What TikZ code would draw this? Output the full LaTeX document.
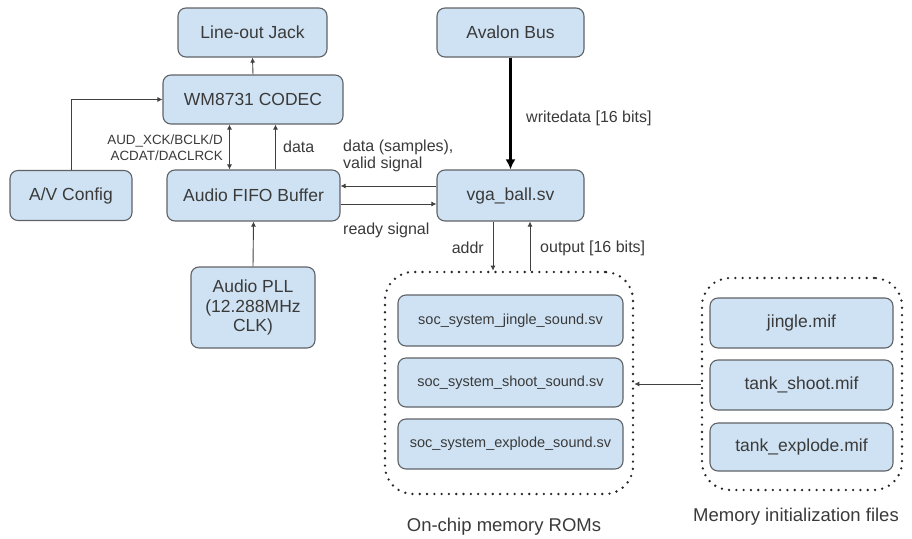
\documentclass[tikz,border=0pt]{standalone}
\usepackage{fontspec}
\setmainfont{Liberation Sans}
\usetikzlibrary{arrows.meta}

\definecolor{boxfill}{HTML}{CFE2F3}
\definecolor{boxline}{HTML}{5F6368}
\definecolor{txt}{HTML}{3A3A3A}

\begin{document}
\begin{tikzpicture}[x=1pt,y=-1pt,
    block/.style={draw=boxline, fill=boxfill, line width=1.1pt, rounded corners=8pt,
        text=txt, inner sep=0pt, align=center, font=\fontsize{17.5}{19.5}\selectfont},
    romblock/.style={block, font=\fontsize{14.5}{16}\selectfont},
    group/.style={draw=black!85, line width=2.6pt, dash pattern=on 0pt off 7.3pt,
        line cap=round, rounded corners=28pt, inner sep=0pt},
    lbl/.style={text=txt, inner sep=0pt, font=\fontsize{16}{17}\selectfont},
    arr/.style={draw=black!75, line width=0.9pt, -{Latex[length=5pt,width=5pt]}},
    bothway/.style={arr, {Latex[length=5pt,width=5pt]}-{Latex[length=5pt,width=5pt]}}]
    \useasboundingbox (0,0) rectangle (912,538);

    % top row
    \node[block, minimum width=149pt, minimum height=49pt] (jack) at (252.5,32.5) {Line-out Jack};
    \node[block, minimum width=147pt, minimum height=49pt] (avalon) at (510.5,32.5) {Avalon Bus};
    \node[block, minimum width=180pt, minimum height=49pt] (codec) at (253,99.5) {WM8731 CODEC};

    % middle row
    \node[block, minimum width=122pt, minimum height=50pt] (avcfg) at (71,195.5) {A/V Config};
    \node[block, minimum width=173pt, minimum height=51pt] (fifo) at (253.5,195.5) {Audio FIFO Buffer};
    \node[block, minimum width=147pt, minimum height=51pt] (vga) at (510.5,195.5) {vga\_ball.sv};
    \node[block, minimum width=124pt, minimum height=81pt] (pll) at (253,307.5) {Audio PLL\\(12.288MHz\\CLK)};

    % on-chip ROMs
    \node[group, minimum width=248pt, minimum height=222pt] (roms) at (509,383) {};
    \node[romblock, minimum width=225pt, minimum height=51pt] (romjingle) at (510.5,320.5) {soc\_system\_jingle\_sound.sv};
    \node[romblock, minimum width=225pt, minimum height=49pt] (romshoot) at (510.5,382.5) {soc\_system\_shoot\_sound.sv};
    \node[romblock, minimum width=225pt, minimum height=50pt] (romexplode) at (510.5,444) {soc\_system\_explode\_sound.sv};

    % init files
    \node[group, minimum width=200pt, minimum height=212pt] (mifs) at (802,384) {};
    \node[block, minimum width=183pt, minimum height=50pt] (mifjingle) at (801.5,323) {jingle.mif};
    \node[block, minimum width=183pt, minimum height=50pt] (mifshoot) at (801.5,385) {tank\_shoot.mif};
    \node[block, minimum width=183pt, minimum height=48pt] (mifexplode) at (801.5,447) {tank\_explode.mif};

    \node[lbl, font=\fontsize{18.5}{20}\selectfont] (romtitle) at (504,527) {On-chip memory ROMs};
    \node[lbl, font=\fontsize{18.5}{20}\selectfont] (miftitle) at (796,517) {Memory initialization files};

    % connections
    \draw[arr] (codec.north) -- (jack.south);
    \draw[arr] (avcfg.north) |- (codec.west);
    \draw[bothway] ([xshift=-24pt]fifo.north) -- ([xshift=-24pt]fifo.north |- codec.south);
    \draw[arr] ([xshift=22pt]fifo.north) -- ([xshift=22pt]fifo.north |- codec.south);
    \draw[arr] ([yshift=9.5pt]vga.west) -- ([yshift=9.5pt]vga.west -| fifo.east);
    \draw[arr] ([yshift=-8.5pt]fifo.east) -- ([yshift=-8.5pt]fifo.east -| vga.west);
    \draw[arr, draw=black, line width=2.2pt, -{Latex[length=10pt,width=10pt]}] (avalon.south) -- (vga.north);
    \draw[arr] ([xshift=-17.5pt]vga.south) -- ([xshift=-17.5pt]vga.south |- roms.north);
    \draw[arr] ([xshift=19.5pt]vga.south |- roms.north) -- ([xshift=19.5pt]vga.south);
    \draw[arr] (pll.north) -- (fifo.south);
    \draw[arr] (mifs.west) -- (mifs.west -| roms.east);

    % signal names
    \node[lbl, anchor=east, align=right, font=\fontsize{13.4}{16}\selectfont] (audsig) at (223,148) {AUD\_XCK/BCLK/D\\ACDAT/DACLRCK};
    \node[lbl, anchor=west] (datasig) at (283,147) {data};
    \node[lbl, anchor=west, align=left] (validsig) at (343,155.5) {data (samples),\\valid signal};
    \node[lbl, anchor=west] (readysig) at (343,230) {ready signal};
    \node[lbl, anchor=west] (writesig) at (526,118) {writedata [16 bits]};
    \node[lbl, anchor=east] (addrsig) at (484,248) {addr};
    \node[lbl, anchor=west] (outsig) at (540,248) {output [16 bits]};
\end{tikzpicture}
\end{document}
